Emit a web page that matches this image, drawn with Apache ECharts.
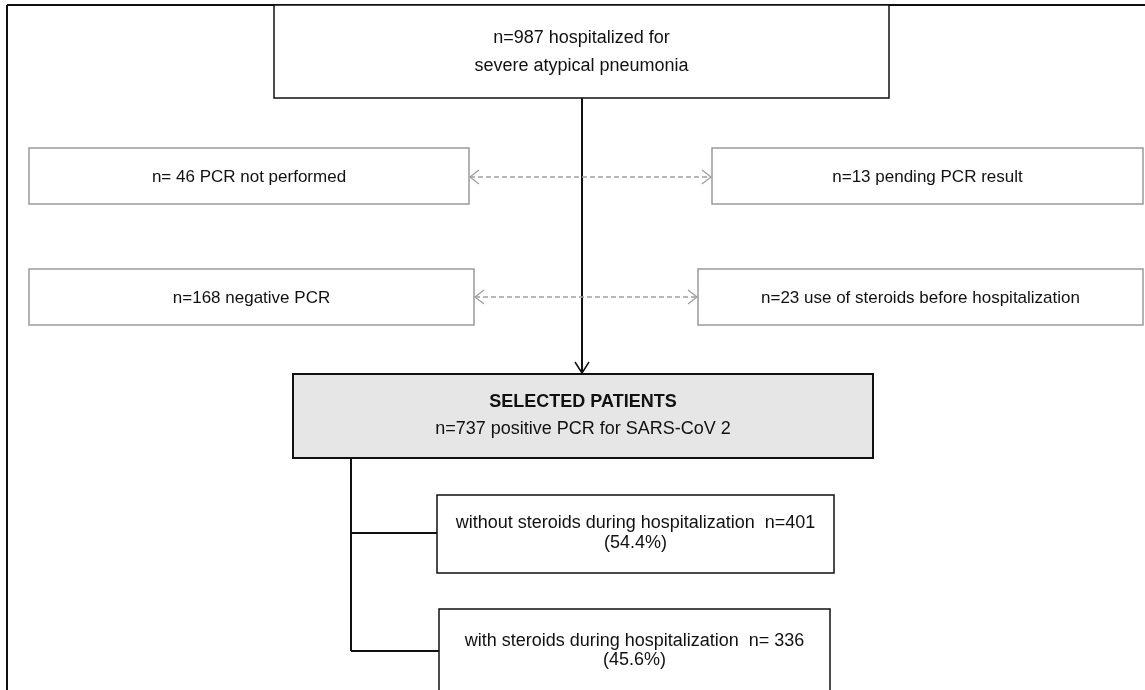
<!DOCTYPE html>
<html>
<head>
<meta charset="utf-8">
<script src="https://cdn.jsdelivr.net/npm/echarts@6/dist/echarts.min.js"></script>
<style>
html,body{margin:0;padding:0;background:#fff;}
#chart{width:1145px;height:690px;}
</style>
</head>
<body>
<div id="chart"></div>
<script>
// ---- data ----
const totalCount = 987;
const totalLabel = ['hospitalized for', 'severe atypical pneumonia'];
const excludedNames = ['PCR not performed', 'pending PCR result', 'negative PCR', 'use of steroids before hospitalization'];
const excludedCounts = [46, 13, 168, 23];
const excludedSep = [' ', '', '', ''];
const selectedTitle = 'SELECTED PATIENTS';
const selectedCount = 737;
const selectedLabel = 'positive PCR for SARS-CoV 2';
const groupNames = ['without steroids during hospitalization', 'with steroids during hospitalization'];
const groupCounts = [401, 336];
const groupSep = ['', ' '];
const groupPct = ['54.4', '45.6'];

// ---- layout (positions / sizes) ----
const L = {
  topBox: [274, 5, 615, 93],
  sideBoxes: [[29, 148, 440, 56], [712, 148, 431, 56], [29, 269, 445, 56], [698, 269, 445, 56]],
  arrowsY: [177, 297],
  selBox: [293, 374, 580, 84],
  groupBoxes: [[437, 495, 397, 78], [439, 609, 391, 110]],
  branchY: [533, 651],
  mainX: 582,
  bracketX: 351
};

const FONT = '"Liberation Sans", Arial, Helvetica, sans-serif';
const DARK = '#111';
const GREY = '#9a9a9a';
const els = [];

function rect(b, stroke, lw, fill) {
  els.push({ type: 'rect', shape: { x: b[0], y: b[1], width: b[2], height: b[3] },
    style: { fill: fill || '#fff', stroke: stroke, lineWidth: lw }, z: 2 });
}
function line(x1, y1, x2, y2, stroke, lw, dash) {
  els.push({ type: 'line', shape: { x1, y1, x2, y2 },
    style: { stroke, lineWidth: lw, lineDash: dash || null }, z: 1 });
}
function chevron(pts, stroke, lw) {
  els.push({ type: 'polyline', shape: { points: pts }, style: { stroke, lineWidth: lw, fill: null }, z: 3 });
}
function text(x, y, t, size, weight) {
  els.push({ type: 'text', x, y, z: 4,
    style: { text: t, fontSize: size, fontFamily: FONT, fontWeight: weight || 'normal', fill: DARK,
      align: 'center', verticalAlign: 'middle', textAlign: 'center', textVerticalAlign: 'middle' } });
}

// frame
line(7, 5, 1145, 5, '#111', 2);
line(7, 5, 7, 690, '#111', 2);

// top box
const tb = L.topBox;
rect(tb, DARK, 1.5);
text(tb[0] + tb[2] / 2, 38, 'n=' + totalCount + ' ' + totalLabel[0], 18);
text(tb[0] + tb[2] / 2, 66, totalLabel[1], 18);

// main vertical line + arrow
line(L.mainX, tb[1] + tb[3], L.mainX, L.selBox[1] - 1, '#111', 2);
chevron([[L.mainX - 7, L.selBox[1] - 12], [L.mainX, L.selBox[1] - 1], [L.mainX + 7, L.selBox[1] - 12]], '#111', 1.5);

// side (excluded) boxes
L.sideBoxes.forEach((b, i) => {
  rect(b, GREY, 1.5);
  text(b[0] + b[2] / 2, b[1] + b[3] / 2 + 1, 'n=' + excludedSep[i] + excludedCounts[i] + ' ' + excludedNames[i], 17);
});

// dashed double arrows
[[0, 1], [2, 3]].forEach((pair, r) => {
  const y = L.arrowsY[r];
  const xl = L.sideBoxes[pair[0]][0] + L.sideBoxes[pair[0]][2] + 1;
  const xr = L.sideBoxes[pair[1]][0] - 1;
  line(xl, y, xr, y, '#a0a0a0', 1.5, [5, 3]);
  chevron([[xl + 9, y - 7], [xl, y], [xl + 9, y + 7]], '#a0a0a0', 1.3);
  chevron([[xr - 9, y - 7], [xr, y], [xr - 9, y + 7]], '#a0a0a0', 1.3);
});

// selected box
const sb = L.selBox;
rect(sb, '#111', 2, '#e6e6e6');
text(sb[0] + sb[2] / 2, 402, selectedTitle, 18, 'bold');
text(sb[0] + sb[2] / 2, 429, 'n=' + selectedCount + ' ' + selectedLabel, 18);

// bracket
const gb = L.groupBoxes;
line(L.bracketX, sb[1] + sb[3], L.bracketX, L.branchY[1], '#111', 2);
line(L.bracketX, L.branchY[0], gb[0][0], L.branchY[0], '#111', 2);
line(L.bracketX, L.branchY[1], gb[1][0], L.branchY[1], '#111', 2);

// group boxes
const groupTextY = [[523, 543], [641, 660]];
gb.forEach((b, i) => {
  rect(b, '#111', 1.5);
  text(b[0] + b[2] / 2, groupTextY[i][0], groupNames[i] + '  n=' + groupSep[i] + groupCounts[i], 18);
  text(b[0] + b[2] / 2, groupTextY[i][1], '(' + groupPct[i] + '%)', 18);
});

const chart = echarts.init(document.getElementById('chart'), null, { renderer: 'canvas' });
chart.setOption({
  backgroundColor: '#fff',
  animation: false,
  graphic: { elements: els }
});
</script>
</body>
</html>
